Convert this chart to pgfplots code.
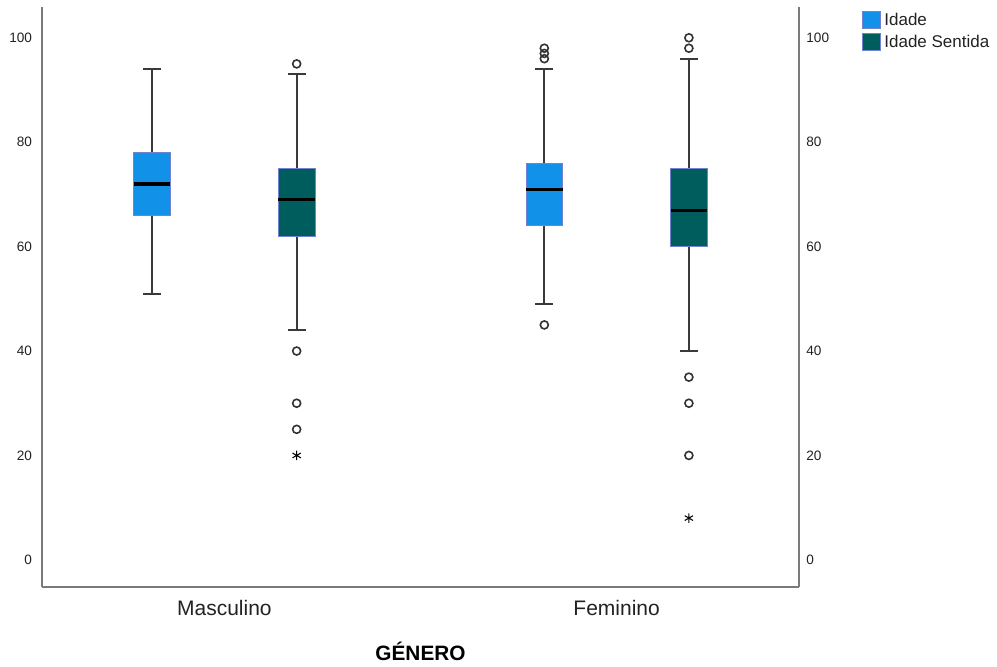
\documentclass[border=0pt]{standalone}
\usepackage{fontspec}
\setmainfont{Liberation Sans}
\usepackage{pgfplots}
\pgfplotsset{compat=1.18}
\usepgfplotslibrary{statistics}
\definecolor{cA}{HTML}{1192E8}
\definecolor{cB}{HTML}{005D5D}
\definecolor{bxedge}{HTML}{7083D2}
\definecolor{whisk}{HTML}{3A3A3A}
\definecolor{axl}{HTML}{7A7A7A}
\definecolor{txt}{HTML}{222222}
\pgfplotsset{
  mybx/.style={forget plot,
    boxplot/draw direction=y,
    boxplot/box extend=0.0933,
    boxplot/whisker extend=0.046,
    boxplot/every box/.style={draw=bxedge, line width=0.7pt, fill=#1},
    boxplot/every median/.style={draw=black, line width=2.3pt},
    boxplot/every whisker/.style={draw=whisk, line width=1.35pt},
    mark=o, mark size=3pt,
    mark options={draw=black!80, line width=1.2pt, fill=white}},
  mycommon/.style={
    at={(0,0)}, anchor=south west,
    width=567.75pt, height=435pt, scale only axis,
    xmin=0.535, xmax=2.465, ymin=-5.2, ymax=105.9,
    axis line style={draw=axl, line width=0.8pt},
    major tick length=0pt,
    ytick={0,20,40,60,80,100},
    /pgf/number format/assume math mode=true,
    yticklabel style={font=\fontsize{10.2}{12}\selectfont, text=txt},
  }
}
\begin{document}
\begin{tikzpicture}
\useasboundingbox (-31.5pt,-60pt) rectangle (716.25pt,440.25pt);
\begin{axis}[mycommon,
  boxplot/draw direction=y,
  axis x line*=bottom, axis y line*=left,
  xtick={1,2}, xticklabels={Masculino,Feminino},
  xticklabel style={font=\fontsize{15.75}{18}\selectfont, text=txt, yshift=-6.5pt},
  yticklabel style={xshift=-4pt},
  xlabel={\textbf{GÉNERO}},
  x label style={at={(axis description cs:0.5,0)}, anchor=center, yshift=-48.5pt, font=\fontsize{15.6}{18}\selectfont, text=black},
  legend style={at={(1.0832,0.994)}, anchor=north west, draw=none, fill=none,
    font=\fontsize{12.75}{15}\selectfont, row sep=3pt, inner sep=0pt,
    nodes={inner sep=1.5pt, text=txt}},
  legend cell align=left,
  legend image code/.code={\draw[#1] (0pt,-6.3pt) rectangle (13pt,6.3pt);},
]
\addlegendimage{draw=bxedge, line width=0.6pt, fill=cA}
\addlegendentry{\hspace{1.5pt}Idade}
\addlegendimage{draw=bxedge, line width=0.6pt, fill=cB}
\addlegendentry{\hspace{1.5pt}Idade Sentida}

% Masculino - Idade
\addplot[mybx=cA, boxplot prepared={draw position=0.8157,
  lower whisker=51, lower quartile=66, median=72, upper quartile=78, upper whisker=94}]
  coordinates {};
% Masculino - Idade Sentida
\addplot[mybx=cB, boxplot prepared={draw position=1.1843,
  lower whisker=44, lower quartile=62, median=69, upper quartile=75, upper whisker=93}]
  table[row sep=\\, y index=0] {data\\ 95\\ 40\\ 30\\ 25\\};
% Feminino - Idade
\addplot[mybx=cA, boxplot prepared={draw position=1.8157,
  lower whisker=49, lower quartile=64, median=71, upper quartile=76, upper whisker=94}]
  table[row sep=\\, y index=0] {data\\ 98\\ 97\\ 96\\ 45\\};
% Feminino - Idade Sentida
\addplot[mybx=cB, boxplot prepared={draw position=2.1843,
  lower whisker=40, lower quartile=60, median=67, upper quartile=75, upper whisker=96}]
  table[row sep=\\, y index=0] {data\\ 100\\ 98\\ 35\\ 30\\ 20\\};
% extreme values
\addplot[only marks, mark=asterisk, mark size=3.6pt, draw=black, line width=0.8pt, forget plot]
  coordinates {(1.1843,20) (2.1843,8)};
\end{axis}
\begin{axis}[mycommon,
  axis x line=none, axis y line*=right,
  yticklabel style={xshift=2pt},
]
\addplot[draw=none, forget plot] coordinates {(1,0)};
\end{axis}
\end{tikzpicture}
\end{document}
